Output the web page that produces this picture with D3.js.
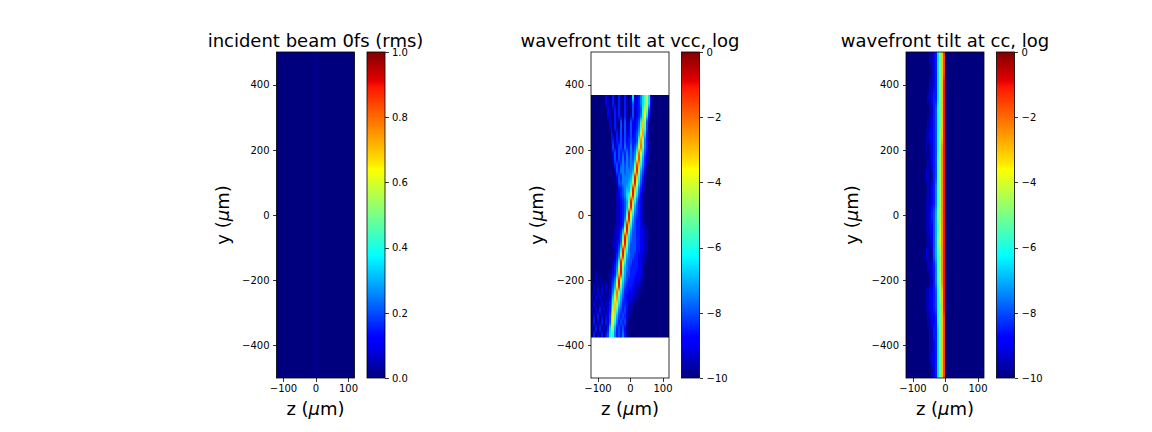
<!DOCTYPE html>
<html>
  <head>
    <meta charset="utf-8">
    <title>Wavefront tilt</title>
    <script src="https://d3js.org/d3.v7.min.js"></script>
    <style>
      body { margin: 0; background: #fff; }
      text { font-family: "DejaVu Sans", sans-serif; fill: #000; }
      .axis text { font-size: 10px; }
      .axis line, .axis path { stroke: #000; stroke-width: 0.8px; shape-rendering: crispEdges; }
      .title { font-size: 18px; text-anchor: middle; }
      .label { font-size: 18px; text-anchor: middle; }
      .mu { font-style: italic; }
      .cell { shape-rendering: crispEdges; }
    </style>
  </head>
  <body>
    <svg width="1152" height="432"></svg>
    <script>
      const titles = ["incident beam 0fs (rms)", "wavefront tilt at vcc, log", "wavefront tilt at cc, log"];
      const zTicks = [-100, 0, 100];
      const yTicks = [-400, -200, 0, 200, 400];
      const linearTicks = [0, 0.2, 0.4, 0.6, 0.8, 1];
      const logTicks = [-10, -8, -6, -4, -2, 0];

      // the first panel is flat across y, one z profile on the 0..1 scale
      const incidentProfile = [
        0, 0, 0, 0, 0, 0, 0, 0, 0, 0, 0, 0, 0, 0, 0, 0, 0, 0, 0, 0.012,
        0.012, 0, 0, 0, 0, 0, 0, 0, 0, 0, 0, 0, 0, 0, 0, 0, 0, 0, 0, 0
      ];

      // log panels: one char per cell, base 21, half decades above -10
      const vccExtent = [368, -376];
      const vccRows = [
        "0000000210 0310310310 17123579b7 2000000000",
        "0000000210 0310310310 14223579b7 2000000000",
        "0000000021 0031310310 1412348ca4 1000000000",
        "0000000021 0031310310 1412358d73 1000000000",
        "0000000002 1031041411 422348ea41 0000000000",
        "0000000001 2031041412 422359e941 0000000000",
        "0000000000 3103141422 42346cf731 0000000000",
        "0000000000 2313242423 43349fb531 0000000000",
        "0000000000 1412442533 5346cga531 0000000000",
        "0000000000 0242434353 5459gc7421 0000000000",
        "0000000000 0142435354 546cha6321 0000000000",
        "0000000000 0034245454 559he85310 0000000000",
        "0000000000 0014355455 56cib64210 0000000000",
        "0000000000 0002435555 69ie853100 0000000000",
        "0000000000 0001445556 7bic742100 0000000000",
        "0000000000 0000234566 9ie9532100 0000000000",
        "0000000000 0001234578 cib7421000 0000000000",
        "0000000000 0001123469 ie85321000 0000000000",
        "0000000000 000112346b ib64321000 0000000000",
        "0000000000 000112348i d854321000 0000000000",
        "0000000000 00011235bi b643321000 0000000000",
        "0000000000 00011238ie 8543321100 0000000000",
        "0000000000 0011236cia 6443322110 0000000000",
        "0000000000 0011249ie7 5443322110 0000000000",
        "0000000000 011235dib6 4443322110 0000000000",
        "0000000000 001248ie85 4443322110 0000000000",
        "0000000000 00135bib65 4433221100 0000000000",
        "0000000000 01248id854 4333221100 0000000000",
        "0000000000 0135bia654 3333221000 0000000000",
        "0010000001 1236ei9644 3332221000 0000000000",
        "0010100001 235aic7543 3322211000 0000000000",
        "0101010201 346cia6433 3221110000 0000000000",
        "0102020102 359gb75332 2211100000 0000000000",
        "1020201012 47cf964322 2111000000 0000000000",
        "0201020213 59eb753331 1100000000 0000000000",
        "1020302023 6be9543421 1000000000 0000000000",
        "0203020224 8da6434321 0000000000 0000000000",
        "0302030324 ad85343410 0000000000 0000000000",
        "1030302037 ca63434210 0000000000 0000000000",
        "0302030348 b853435310 0000000000 0000000000"
      ];

      const ccExtent = [500, -500];
      const ccRows = [
        "0000000000 0011237aeh 0000000000 0000000000",
        "0000000000 0001237aeh 0000000000 0000000000",
        "0000000000 0011237aei 0000000000 0000000000",
        "0000000000 0112337aei 0000000000 0000000000",
        "0000000000 0011348aei 0000000000 0000000000",
        "0000000000 0112348aei 0000000000 0000000000",
        "0000000000 1122348bei 0000000000 0000000000",
        "0000000000 1012348bfi 0000000000 0000000000",
        "0000000000 0112349bfi 0000000000 0000000000",
        "0000000000 2101349bfi 0000000000 0000000000",
        "0000000000 0112359bfi 0000000000 0000000000",
        "0000000000 1112359bfi 0000000000 0000000000",
        "0000000000 112346abfi 0000000000 0000000000",
        "0000000000 1122469cfi 0000000000 0000000000",
        "0000000000 011246acfi 0000000000 0000000000",
        "0000000000 2101469bfi 0000000000 0000000000",
        "0000000000 0112359bfi 0000000000 0000000000",
        "0000000000 0011359bfi 0000000000 0000000000",
        "0000000000 1122348bei 0000000000 0000000000",
        "0000000000 1122348aei 0000000000 0000000000",
        "0000000000 0112238aeh 0000000000 0000000000",
        "0000000000 0011337aeh 0000000000 0000000000",
        "0000000000 0011237aeh 0000000000 0000000000",
        "0000000000 0012237aeh 0000000000 0000000000",
        "0000000000 0001237aeh 0000000000 0000000000"
      ];

      const jetStops = [
        [0, "#00007f"], [0.11, "#0000ff"], [0.125, "#0000ff"], [0.34, "#00dbff"],
        [0.375, "#02ffff"], [0.64, "#ffff00"], [0.66, "#ffe600"], [0.89, "#ff1a00"],
        [0.91, "#e80000"], [1, "#7f0000"]
      ];
      const jet = d3.scaleLinear()
        .domain(jetStops.map(d => d[0]))
        .range(jetStops.map(d => d[1]))
        .clamp(true);

      const svg = d3.select("svg");
      const defs = svg.append("defs");
      const panelTop = 52, panelBottom = 378, panelWidth = 78;
      const barGap = 12.5, barWidth = 18;
      const overscan = 8; // cells run past the clip so the blur has no soft edge

      const parseRow = row => row.replace(/ /g, "").split("").map(c => parseInt(c, 21) / 2 - 10);

      function heatmap(selection, props) {
        const rows = props.rows;
        const yScale = props.yScale;
        const xScale = props.xScale;
        const color = props.color;
        const lastRow = rows.length - 1;
        const lastCol = rows[0].length - 1;
        const colBand = d3.scaleBand().domain(d3.range(rows[0].length)).range(xScale.range());
        const rowBand = d3.scaleBand().domain(d3.range(rows.length))
          .range([yScale(props.extent[0]), yScale(props.extent[1])]);

        defs.append("clipPath").attr("id", "clip" + props.id)
          .append("rect")
            .attr("y", rowBand.range()[0])
            .attr("width", panelWidth)
            .attr("height", rowBand.range()[1] - rowBand.range()[0]);
        defs.append("filter").attr("id", "soft" + props.id)
          .attr("filterUnits", "userSpaceOnUse")
          .attr("x", -20).attr("y", 0).attr("width", panelWidth + 40).attr("height", 432)
          .attr("color-interpolation-filters", "sRGB")
          .append("feGaussianBlur").attr("stdDeviation", props.blur);

        selection.append("g")
          .attr("clip-path", `url(#clip${props.id})`)
          .append("g")
            .attr("filter", `url(#soft${props.id})`)
          .selectAll("g")
          .data(rows)
          .join("g")
          .each(function(d, r) {
            d3.select(this).selectAll("rect")
              .data(d)
              .join("rect")
                .attr("class", "cell")
                .attr("x", (v, i) => colBand(i) - (i === 0 ? overscan : 0))
                .attr("y", rowBand(r) - (r === 0 ? overscan : 0))
                .attr("width", (v, i) => colBand.bandwidth() + 1 + (i === 0 || i === lastCol ? overscan : 0))
                .attr("height", rowBand.bandwidth() + 1 + (r === 0 || r === lastRow ? overscan : 0))
                .attr("fill", v => jet(color(v)));
          });
      }

      function panel(x, props) {
        const g = svg.append("g").attr("transform", `translate(${x},0)`);
        const xScale = d3.scaleLinear().domain([-120, 120]).range([0, panelWidth]);
        const yScale = d3.scaleLinear().domain([-500, 500]).range([panelBottom, panelTop]);

        g.call(heatmap, { id: props.id, blur: props.blur, rows: props.rows, extent: props.extent, xScale, yScale, color: props.color });

        g.append("rect")
          .attr("y", panelTop).attr("width", panelWidth).attr("height", panelBottom - panelTop)
          .attr("fill", "none").attr("stroke", "#000").attr("stroke-width", 0.8);

        g.append("g").attr("class", "axis")
          .attr("transform", `translate(0,${panelBottom})`)
          .call(d3.axisBottom(xScale).tickValues(zTicks).tickSize(3.5).tickPadding(3.5))
          .call(a => a.select(".domain").remove());
        g.append("g").attr("class", "axis")
          .call(d3.axisLeft(yScale).tickValues(yTicks).tickSize(3.5).tickPadding(3.5))
          .call(a => a.select(".domain").remove());

        g.append("text").attr("class", "title")
          .attr("x", panelWidth / 2).attr("y", 46.5).text(props.title);

        const zLabel = g.append("text").attr("class", "label")
          .attr("x", panelWidth / 2).attr("y", 415);
        zLabel.append("tspan").text("z (");
        zLabel.append("tspan").attr("class", "mu").text("\u03bc");
        zLabel.append("tspan").text("m)");

        const yLabel = g.append("text").attr("class", "label")
          .attr("transform", `translate(-48,${(panelTop + panelBottom) / 2}) rotate(-90)`);
        yLabel.append("tspan").text("y (");
        yLabel.append("tspan").attr("class", "mu").text("\u03bc");
        yLabel.append("tspan").text("m)");

        // colorbar
        const barX = panelWidth + barGap;
        const barScale = d3.scaleLinear().domain(props.barDomain).range([panelBottom, panelTop]);
        const gradId = "jet" + props.id;
        const grad = defs.append("linearGradient")
          .attr("id", gradId).attr("x1", 0).attr("x2", 0).attr("y1", 1).attr("y2", 0);
        grad.selectAll("stop").data(jetStops).join("stop")
          .attr("offset", d => d[0]).attr("stop-color", d => d[1]);

        const bar = g.append("g").attr("transform", `translate(${barX},0)`);
        bar.append("rect")
          .attr("y", panelTop).attr("width", barWidth).attr("height", panelBottom - panelTop)
          .attr("fill", `url(#${gradId})`).attr("stroke", "#000").attr("stroke-width", 0.8);
        bar.append("g").attr("class", "axis")
          .attr("transform", `translate(${barWidth},0)`)
          .call(d3.axisRight(barScale).tickValues(props.barTicks).tickSize(3.5).tickPadding(3.5)
            .tickFormat(props.barFormat))
          .call(a => a.select(".domain").remove());
      }

      const logColor = d3.scaleLinear().domain([-10, 0]).range([0, 1]);
      const logFormat = d3.format("d");

      panel(276.5, {
        id: 1, title: titles[0], rows: [incidentProfile], extent: [500, -500], blur: "0.3 0",
        color: d => d, barDomain: [0, 1], barTicks: linearTicks, barFormat: d3.format(".1f")
      });
      panel(591, {
        id: 2, title: titles[1], rows: vccRows.map(parseRow), extent: vccExtent, blur: "0.4 2",
        color: logColor, barDomain: [-10, 0], barTicks: logTicks, barFormat: logFormat
      });
      panel(906, {
        id: 3, title: titles[2], rows: ccRows.map(parseRow), extent: ccExtent, blur: "0.3 3",
        color: logColor, barDomain: [-10, 0], barTicks: logTicks, barFormat: logFormat
      });
    </script>
  </body>
</html>
